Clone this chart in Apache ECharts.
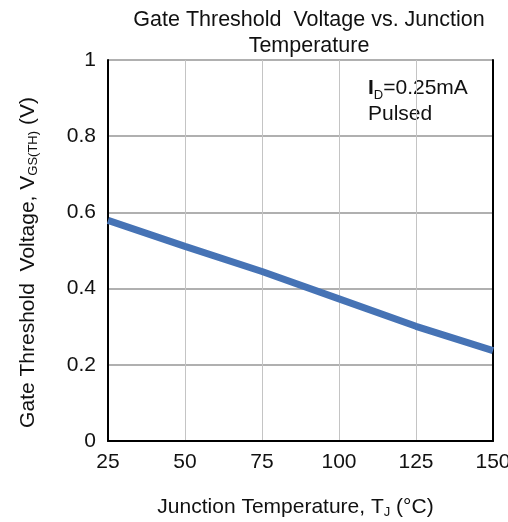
<!DOCTYPE html>
<html>
<head>
<meta charset="utf-8">
<script src="https://cdn.jsdelivr.net/npm/echarts@6/dist/echarts.min.js"></script>
<style>
  html, body {margin: 0; padding: 0; background: #fff;}
  #chart {width: 508px; height: 522px;}
</style>
</head>
<body>
<div id="chart"></div>
<script>
// values
const tempC = [25, 50, 75, 100, 125, 150];
const vgsTh = [0.579, 0.511, 0.445, 0.373, 0.301, 0.237];
const xTicks = [25, 50, 75, 100, 125, 150];
const yTicks = [0, 0.2, 0.4, 0.6, 0.8, 1];

const font = '"Liberation Sans", Arial, sans-serif';

let chart = echarts.init(document.getElementById('chart'));
let option = {
    animation: false,
    title: {
        text: 'Gate Threshold  Voltage vs. Junction\nTemperature',
        left: 304,
        top: 2,
        textAlign: 'center',
        textStyle: {fontFamily: font, fontSize: 21.5, fontWeight: 'normal', color: '#111', lineHeight: 26}
    },
    grid: {left: 108, top: 60, right: 15, bottom: 81, outerBoundsMode: 'none'},
    xAxis: {
        type: 'value',
        min: xTicks[0],
        max: xTicks[xTicks.length - 1],
        interval: 25,
        name: 'Junction Temperature, T{sub|J} (°C)',
        nameLocation: 'center',
        nameGap: 55,
        nameTextStyle: {
            fontFamily: font, fontSize: 21, color: '#111', padding: [0, 10, 0, 0],
            rich: {sub: {fontFamily: font, fontSize: 13, color: '#111', verticalAlign: 'bottom', padding: [10, 0, 0, 0]}}
        },
        axisLine: {show: true, onZero: false, lineStyle: {color: '#000', width: 2}},
        axisTick: {show: false},
        axisLabel: {fontFamily: font, fontSize: 21, color: '#111', margin: 11},
        splitLine: {show: true, lineStyle: {color: '#c4c4c4', width: 1}}
    },
    yAxis: [{
        type: 'value',
        min: 0,
        max: 1,
        interval: 0.2,
        name: 'Gate Threshold  Voltage, V{sub|GS(TH)} (V)',
        nameLocation: 'center',
        nameRotate: 90,
        nameGap: 68,
        nameTextStyle: {
            fontFamily: font, fontSize: 21, color: '#111', padding: [0, 24, 0, 0],
            rich: {sub: {fontFamily: font, fontSize: 13, color: '#111', verticalAlign: 'bottom', padding: [10, 0, 0, 0]}}
        },
        axisLine: {show: true, lineStyle: {color: '#000', width: 2}},
        axisTick: {show: false},
        axisLabel: {
            fontFamily: font, fontSize: 21, color: '#111', margin: 12,
            formatter: v => yTicks.includes(+v.toFixed(1)) ? String(+v.toFixed(1)) : ''
        },
        splitLine: {show: true, lineStyle: {color: '#b0b0b0', width: 2}}
    }, {
        type: 'value',
        position: 'right',
        min: 0,
        max: 1,
        interval: 0.2,
        axisLine: {show: true, lineStyle: {color: '#000', width: 2}},
        axisTick: {show: false},
        axisLabel: {show: false},
        splitLine: {show: false}
    }],
    graphic: [{
        type: 'text',
        left: 368,
        top: 78,
        style: {
            text: '{b|I}{s|D}{n|=0.25mA}\n{n|Pulsed}',
            fill: '#111',
            rich: {
                b: {fontFamily: font, fontSize: 21, fontWeight: 'bold', fill: '#111', lineHeight: 26},
                s: {fontFamily: font, fontSize: 13, fill: '#111', verticalAlign: 'bottom', lineHeight: 26, padding: [8, 0, 0, 0]},
                n: {fontFamily: font, fontSize: 21, fill: '#111', lineHeight: 26}
            }
        }
    }],
    series: [{
        type: 'line',
        data: tempC.map((t, i) => [t, vgsTh[i]]),
        showSymbol: false,
        smooth: false,
        lineStyle: {color: '#4673b5', width: 7},
        z: 3
    }]
};
chart.setOption(option);
</script>
</body>
</html>
